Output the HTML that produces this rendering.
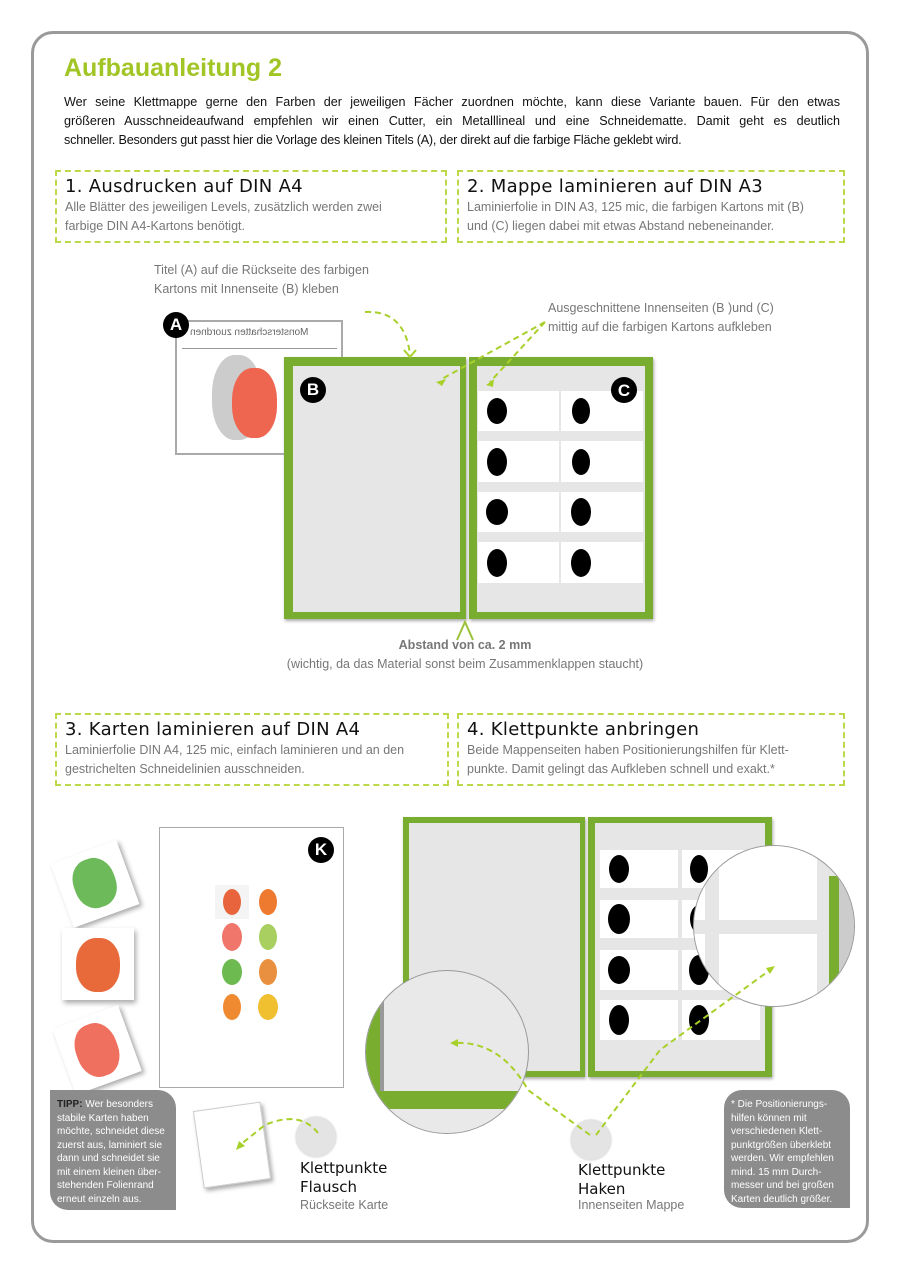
<!DOCTYPE html>
<html><head><meta charset="utf-8"><style>
*{margin:0;padding:0;box-sizing:border-box}
body{width:900px;height:1273px;background:#fff;position:relative;font-family:"Liberation Sans",sans-serif;overflow:hidden}
.a{position:absolute}
.frame{left:31px;top:31px;width:838px;height:1212px;border:3px solid #9a9a9a;border-radius:22px}
h1{position:absolute;left:64px;top:54px;font-size:25px;color:#a2c526;font-weight:bold}
.p{left:64px;width:776px;font-size:12.6px;line-height:19px;text-align:justify;text-align-last:justify;color:#111;white-space:nowrap}
.box{position:absolute;border:2px dashed #bcd94a;padding:4px 8px}
.box h2{font-family:"DejaVu Sans",sans-serif;font-weight:normal;font-size:18px;color:#111;letter-spacing:.3px;line-height:22px}
.box div{font-size:12.5px;color:#777;line-height:19px;white-space:nowrap}
.g{color:#777;font-size:12.5px;line-height:19px;white-space:nowrap}
.lbl{position:absolute;width:26px;height:26px;border-radius:50%;background:#000;color:#fff;font-weight:bold;font-size:17px;text-align:center;line-height:26px}
.fold{position:absolute;background:#79ad2f;box-shadow:1px 2px 3px #aaa}
.in{position:absolute;background:#e6e6e6}
.hand{font-family:"DejaVu Sans",sans-serif;font-size:15px;color:#111;line-height:19px}
.tip{background:#8c8c8c;color:#fff;font-size:10px;line-height:13.5px;padding:8px 7px;border-radius:0 18px 0 18px}
</style></head><body>
<div class="a frame"></div>
<h1>Aufbauanleitung 2</h1>
<div class="a p" style="top:93px">Wer seine Klettmappe gerne den Farben der jeweiligen Fächer zuordnen möchte, kann diese Variante bauen. Für den etwas</div>
<div class="a p" style="top:112px">größeren Ausschneideaufwand empfehlen wir einen Cutter, ein Metalllineal und eine Schneidematte. Damit geht es deutlich</div>
<div class="a p" style="top:131px;text-align:left;text-align-last:left;letter-spacing:-0.2px">schneller. Besonders gut passt hier die Vorlage des kleinen Titels (A), der direkt auf die farbige Fläche geklebt wird.</div>

<div class="box" style="left:55px;top:170px;width:392px;height:73px"><h2>1. Ausdrucken auf DIN A4</h2><div>Alle Blätter des jeweiligen Levels, zusätzlich werden zwei<br>farbige DIN A4-Kartons benötigt.</div></div>
<div class="box" style="left:457px;top:170px;width:388px;height:73px"><h2>2. Mappe laminieren auf DIN A3</h2><div>Laminierfolie in DIN A3, 125 mic, die farbigen Kartons mit (B)<br>und (C) liegen dabei mit etwas Abstand nebeneinander.</div></div>
<div class="box" style="left:55px;top:713px;width:394px;height:73px"><h2>3. Karten laminieren auf DIN A4</h2><div>Laminierfolie DIN A4, 125 mic, einfach laminieren und an den<br>gestrichelten Schneidelinien ausschneiden.</div></div>
<div class="box" style="left:457px;top:713px;width:388px;height:73px"><h2>4. Klettpunkte anbringen</h2><div>Beide Mappenseiten haben Positionierungshilfen für Klett-<br>punkte. Damit gelingt das Aufkleben schnell und exakt.*</div></div>

<div class="a g" style="left:154px;top:261px">Titel (A) auf die Rückseite des farbigen<br>Kartons mit Innenseite (B) kleben</div>
<div class="a g" style="left:548px;top:299px">Ausgeschnittene Innenseiten (B )und (C)<br>mittig auf die farbigen Kartons aufkleben</div>

<div class="a" style="left:175px;top:320px;width:168px;height:135px;border:2px solid #aaa;background:#fff"></div>
<div class="a" style="left:190px;top:327px;font-size:10px;color:#666;transform:scaleX(-1)">Monsterschatten zuordnen</div>
<div class="a" style="left:182px;top:348px;width:155px;height:1px;background:#999"></div>
<div class="a" style="left:212px;top:355px;width:50px;height:85px;border-radius:45%;background:#ccc"></div>
<div class="a" style="left:232px;top:368px;width:45px;height:70px;border-radius:45%;background:#ee6650"></div>
<div class="lbl" style="left:163px;top:312px">A</div>

<div class="fold" style="left:284px;top:357px;width:182px;height:262px"></div>
<div class="in" style="left:293px;top:366px;width:167px;height:246px"></div>
<div class="fold" style="left:469px;top:357px;width:184px;height:262px"></div>
<div class="in" style="left:477px;top:366px;width:168px;height:246px"></div>
<div class="lbl" style="left:300px;top:377px">B</div>

<div class="a g" style="left:237px;top:636px;width:456px;text-align:center"><b>Abstand von ca. 2 mm</b><br>(wichtig, da das Material sonst beim Zusammenklappen staucht)</div>

<div class="a" style="left:159px;top:827px;width:185px;height:261px;border:1.5px solid #aaa;background:#fff"></div>
<div class="lbl" style="left:308px;top:837px">K</div>

<div class="a" style="left:60px;top:850px;width:70px;height:68px;background:#fff;box-shadow:2px 3px 5px #aaa;transform:rotate(-20deg)"><div style="margin:8px 14px;width:42px;height:50px;border-radius:45%;background:#6dba5a"></div></div>
<div class="a" style="left:62px;top:928px;width:72px;height:72px;background:#fff;box-shadow:2px 3px 5px #aaa"><div style="margin:10px 14px;width:44px;height:54px;border-radius:45%;background:#e86a3a"></div></div>
<div class="a" style="left:62px;top:1015px;width:70px;height:70px;background:#fff;box-shadow:2px 3px 5px #aaa;transform:rotate(-20deg)"><div style="margin:8px 14px;width:42px;height:54px;border-radius:45%;background:#f07060"></div></div>

<div class="fold" style="left:403px;top:817px;width:182px;height:260px"></div>
<div class="in" style="left:409px;top:823px;width:171px;height:248px"></div>
<div class="fold" style="left:588px;top:817px;width:184px;height:260px"></div>
<div class="in" style="left:595px;top:823px;width:170px;height:248px"></div>

<svg class="a" style="left:0;top:0" width="900" height="1273">
<g fill="#fff">
<rect x="478" y="391" width="81" height="40"/><rect x="561" y="391" width="82" height="40"/>
<rect x="478" y="441" width="81" height="41"/><rect x="561" y="441" width="82" height="41"/>
<rect x="478" y="492" width="81" height="40"/><rect x="561" y="492" width="82" height="40"/>
<rect x="478" y="542" width="81" height="41"/><rect x="561" y="542" width="82" height="41"/>
<rect x="600" y="850" width="78" height="38"/><rect x="682" y="850" width="78" height="38"/>
<rect x="600" y="900" width="78" height="38"/><rect x="682" y="900" width="78" height="38"/>
<rect x="600" y="950" width="78" height="40"/><rect x="682" y="950" width="78" height="40"/>
<rect x="600" y="1000" width="78" height="40"/><rect x="682" y="1000" width="78" height="40"/>
</g>
<g fill="#000">
<ellipse cx="497" cy="411" rx="10" ry="13"/><ellipse cx="581" cy="411" rx="9" ry="13"/>
<ellipse cx="497" cy="462" rx="10" ry="14"/><ellipse cx="581" cy="462" rx="9" ry="13"/>
<ellipse cx="497" cy="512" rx="11" ry="13"/><ellipse cx="581" cy="512" rx="10" ry="14"/>
<ellipse cx="497" cy="563" rx="10" ry="14"/><ellipse cx="581" cy="563" rx="10" ry="14"/>
<ellipse cx="619" cy="869" rx="10" ry="14"/><ellipse cx="699" cy="869" rx="9" ry="14"/>
<ellipse cx="619" cy="919" rx="11" ry="15"/><ellipse cx="699" cy="919" rx="9" ry="14"/>
<ellipse cx="619" cy="970" rx="11" ry="14"/><ellipse cx="699" cy="970" rx="10" ry="15"/>
<ellipse cx="619" cy="1020" rx="10" ry="15"/><ellipse cx="699" cy="1020" rx="10" ry="15"/>
</g>
<circle cx="624" cy="390" r="13" fill="#000"/>
<text x="624" y="396" fill="#fff" font-size="17" font-weight="bold" text-anchor="middle" font-family="Liberation Sans">C</text>
<rect x="215" y="885" width="34" height="34" fill="#f4f4f4"/>
<ellipse cx="232" cy="902" rx="9" ry="13" fill="#e8643c"/><ellipse cx="268" cy="902" rx="9" ry="13" fill="#ee7a30"/>
<ellipse cx="232" cy="937" rx="10" ry="14" fill="#f0756a"/><ellipse cx="268" cy="937" rx="9" ry="13" fill="#a8cf60"/>
<ellipse cx="232" cy="972" rx="10" ry="13" fill="#6cba50"/><ellipse cx="268" cy="972" rx="9" ry="13" fill="#e89040"/>
<ellipse cx="232" cy="1007" rx="9" ry="13" fill="#f08a30"/><ellipse cx="268" cy="1007" rx="10" ry="13" fill="#f0c030"/>
</svg>

<div class="a" style="left:365px;top:970px;width:164px;height:164px;border-radius:50%;border:1.5px solid #999;overflow:hidden;background:#e9e9e9">
<div class="a" style="left:0;top:0;width:14px;height:164px;background:#79ad2f"></div>
<div class="a" style="left:14px;top:0;width:4px;height:164px;background:#999"></div>
<div class="a" style="left:0;top:120px;width:164px;height:18px;background:#79ad2f"></div>
<div class="a" style="left:0;top:138px;width:164px;height:30px;background:#e9e9e9"></div>
</div>
<div class="a" style="left:693px;top:845px;width:162px;height:162px;border-radius:50%;border:1.5px solid #999;overflow:hidden;background:#e6e6e6">
<div class="a" style="left:25px;top:0;width:98px;height:74px;background:#fff"></div>
<div class="a" style="left:25px;top:88px;width:98px;height:74px;background:#fff"></div>
<div class="a" style="left:-5px;top:0;width:16px;height:74px;background:#fff"></div>
<div class="a" style="left:-5px;top:88px;width:16px;height:74px;background:#fff"></div>
<div class="a" style="left:135px;top:30px;width:10px;height:120px;background:#79ad2f"></div>
<div class="a" style="left:145px;top:30px;width:20px;height:120px;background:#ccc"></div>
</div>

<div class="a" style="left:198px;top:1106px;width:68px;height:78px;background:#fff;border:1px solid #ccc;box-shadow:2px 3px 4px #aaa;transform:rotate(-8deg)"></div>
<div class="a" style="left:296px;top:1117px;width:40px;height:40px;border-radius:50%;background:#e4e4e4;box-shadow:0 0 2px #bbb"></div>
<div class="a" style="left:571px;top:1120px;width:40px;height:40px;border-radius:50%;background:#e4e4e4;box-shadow:0 0 2px #bbb"></div>
<div class="a hand" style="left:300px;top:1159px">Klettpunkte<br>Flausch</div>
<div class="a g" style="left:300px;top:1196px">Rückseite Karte</div>
<div class="a hand" style="left:578px;top:1161px">Klettpunkte<br>Haken</div>
<div class="a g" style="left:578px;top:1196px">Innenseiten Mappe</div>

<div class="a tip" style="left:50px;top:1090px;width:126px;height:120px"><b style="color:#222">TIPP:</b> Wer besonders stabile Karten haben möchte, schneidet diese zuerst aus, laminiert sie dann und schneidet sie mit einem kleinen über­stehenden Folienrand erneut einzeln aus.</div>
<div class="a tip" style="left:724px;top:1090px;width:126px;height:118px;border-radius:18px 18px 0 18px">* Die Positionierungs­hilfen können mit verschiedenen Klett­punktgrößen überklebt werden. Wir empfehlen mind. 15 mm Durch­messer und bei großen Karten deutlich größer.</div>

<svg class="a" style="left:0;top:0" width="900" height="1273">
<g fill="none" stroke="#a8d02a" stroke-width="2" stroke-dasharray="6,4">
<path d="M365 312 Q405 310 410 355"/>
<path d="M545 322 L440 380"/>
<path d="M545 322 L490 382"/>
<path d="M590 1135 L528 1090 Q500 1040 453 1043"/>
<path d="M596 1135 L660 1050 L770 970"/>
<path d="M318 1133 Q300 1110 265 1125 L240 1145"/>
</g>
<g fill="none" stroke="#a8d02a" stroke-width="2">
<path d="M404 350 L410 357 L416 350"/>
<path d="M457 640 L465 622 L473 640" stroke="#9bc23a"/>
</g>
<g fill="#a8d02a">
<path d="M436 382 l10 -3 l-4 7z"/>
<path d="M486 385 l8 -6 l-1 8z"/>
<path d="M450 1043 l8 -4 l0 8z"/>
<path d="M775 966 l-9 2 l4 6z"/>
<path d="M236 1150 l3 -9 l6 5z"/>
</g>
</svg>
</body></html>
